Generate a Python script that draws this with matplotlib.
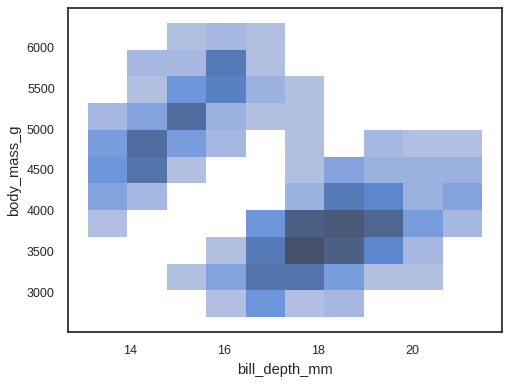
import numpy as np
import matplotlib
matplotlib.use("Agg")
import matplotlib.pyplot as plt
import seaborn as sns

# bin edges (penguins bill_depth_mm x body_mass_g)
x_edges = np.linspace(13.1, 21.5, 11)
y_edges = np.linspace(2700, 6300, 12)

# counts per cell, bottom row first, columns left to right
counts = [
    [0, 0, 0, 1, 7, 1, 2, 0, 0, 0],
    [0, 0, 1, 5, 12, 12, 6, 1, 1, 0],
    [0, 0, 0, 1, 11, 17, 15, 9, 2, 0],
    [1, 0, 0, 0, 7, 15, 16, 14, 6, 2],
    [5, 2, 0, 0, 0, 3, 11, 9, 3, 5],
    [7, 12, 1, 0, 0, 1, 5, 3, 3, 3],
    [6, 13, 6, 2, 0, 1, 0, 2, 1, 1],
    [2, 5, 13, 3, 1, 1, 0, 0, 0, 0],
    [0, 1, 7, 10, 3, 1, 0, 0, 0, 0],
    [0, 2, 2, 11, 1, 0, 0, 0, 0, 0],
    [0, 0, 1, 2, 1, 0, 0, 0, 0, 0],
]

sns.set_theme(style="white")
plt.rcParams['font.family'] = ['Liberation Sans', 'DejaVu Sans']

x_mid = (x_edges[:-1] + x_edges[1:]) / 2
y_mid = (y_edges[:-1] + y_edges[1:]) / 2
xx, yy = np.meshgrid(x_mid, y_mid)
w = np.array(counts, dtype=float)
keep = w > 0

fig = plt.figure(figsize=(5.14, 3.85), dpi=100)
ax = fig.add_axes([68 / 514, 1 - 332 / 385, 434 / 514, 324 / 385])
sns.histplot(x=xx[keep], y=yy[keep], weights=w[keep],
             bins=[list(x_edges), list(y_edges)], ax=ax)

ax.set_xlabel("bill_depth_mm", fontsize=10.5)
ax.set_ylabel("body_mass_g", fontsize=10.5)
ax.set_xticks([14, 16, 18, 20])
ax.set_yticks([3000, 3500, 4000, 4500, 5000, 5500, 6000])
ax.tick_params(labelsize=9)

fig.savefig("out.png", dpi=100)
